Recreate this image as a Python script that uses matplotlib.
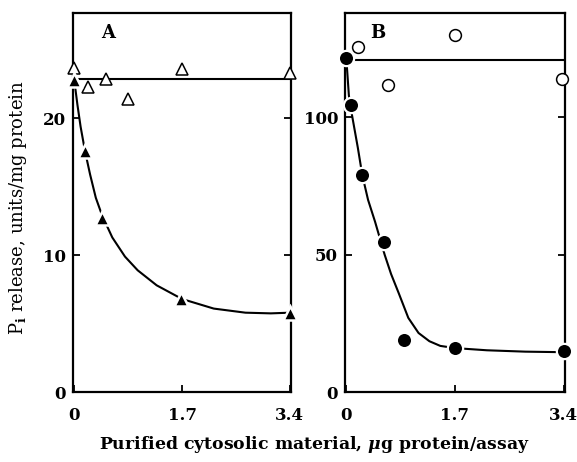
import matplotlib.pyplot as plt

# Panel A: open triangles (control) and filled triangles (with cytosolic material)
a_open_x = [0.0, 0.22, 0.5, 0.84, 1.7, 3.4]
a_open_y = [23.7, 22.3, 22.9, 21.4, 23.6, 23.3]
a_fill_x = [0.0, 0.17, 0.44, 1.69, 3.4]
a_fill_y = [22.8, 17.6, 12.7, 6.8, 5.8]
a_flat_y = 22.9
a_curve_x = [0.0, 0.05, 0.1, 0.17, 0.25, 0.34, 0.44, 0.6, 0.8, 1.0, 1.3, 1.7, 2.2, 2.7, 3.1, 3.4]
a_curve_y = [22.8, 21.0, 19.4, 17.6, 15.9, 14.2, 12.9, 11.3, 9.9, 8.9, 7.8, 6.8, 6.1, 5.8, 5.75, 5.8]

# Panel B: open circles and filled circles
b_open_x = [0.19, 0.65, 1.7, 3.38]
b_open_y = [125.5, 112.0, 130.0, 114.0]
b_fill_x = [0.0, 0.08, 0.25, 0.59, 0.91, 1.7, 3.4]
b_fill_y = [121.5, 104.7, 79.0, 54.5, 19.0, 16.0, 15.0]
b_flat_y = 120.8
b_curve_x = [0.0, 0.04, 0.08, 0.18, 0.25, 0.34, 0.45, 0.6, 0.7, 0.82, 0.97,
             1.13, 1.3, 1.47, 1.7, 2.2, 2.8, 3.4]
b_curve_y = [121.5, 108.0, 102.0, 89.0, 79.0, 70.0, 62.0, 50.0, 43.0, 36.0, 27.0,
             21.5, 18.5, 16.8, 16.0, 15.2, 14.7, 14.5]

xticks = [0, 1.7, 3.4]
xticklabels = ['0', '1.7', '3.4']

plt.rcParams['font.family'] = ['DejaVu Serif']
plt.rcParams['font.weight'] = 'bold'
plt.rcParams['mathtext.fontset'] = 'custom'
plt.rcParams['mathtext.rm'] = 'DejaVu Serif:bold'
plt.rcParams['mathtext.it'] = 'DejaVu Serif:italic:bold'

fig = plt.figure(figsize=(5.77, 4.62), dpi=100)
axA = fig.add_axes([0.1265, 0.1515, 0.378, 0.820])
axB = fig.add_axes([0.598, 0.1515, 0.381, 0.820])


def style(ax, ylim, yticks):
    ax.set_xlim(-0.02, 3.42)
    ax.set_ylim(*ylim)
    ax.set_xticks(xticks)
    ax.set_xticklabels(xticklabels)
    ax.set_yticks(yticks)
    ax.tick_params(direction='in', length=5, width=1.3, right=True, labelsize=12)
    ax.tick_params(axis='x', pad=11)
    ax.tick_params(axis='y', pad=5)
    for s in ax.spines.values():
        s.set_linewidth(1.6)


# Panel A
axA.plot([0, 3.4], [a_flat_y, a_flat_y], color='black', lw=1.5, zorder=2)
axA.plot(a_curve_x, a_curve_y, color='black', lw=1.5, zorder=2)
axA.plot(a_open_x, a_open_y, linestyle='none', marker='^', ms=9,
         mfc='white', mec='black', mew=1.1, clip_on=False, zorder=4)
axA.plot(a_fill_x, a_fill_y, linestyle='none', marker='^', ms=10,
         mfc='black', mec='white', mew=1.8, clip_on=False, zorder=5)
style(axA, (0, 27.7), [0, 10, 20])
axA.text(0.16, 0.947, 'A', transform=axA.transAxes, fontsize=13,
         fontweight='bold', va='center', ha='center')
axA.set_ylabel(r'P$_\mathrm{i}$ release, units/mg protein', fontsize=13)
axA.yaxis.set_label_coords(-0.20, 0.487)

# Panel B
axB.plot([0, 3.4], [b_flat_y, b_flat_y], color='black', lw=1.5, zorder=2)
axB.plot(b_curve_x, b_curve_y, color='black', lw=1.5, zorder=2)
axB.plot(b_open_x, b_open_y, linestyle='none', marker='o', ms=8.5,
         mfc='white', mec='black', mew=1.1, clip_on=False, zorder=4)
axB.plot(b_fill_x, b_fill_y, linestyle='none', marker='o', ms=11,
         mfc='black', mec='white', mew=1.6, clip_on=False, zorder=5)
style(axB, (0, 138), [0, 50, 100])
axB.text(0.15, 0.947, 'B', transform=axB.transAxes, fontsize=13,
         fontweight='bold', va='center', ha='center')

fig.text(0.545, 0.037, r'Purified cytosolic material, $\mu$g protein/assay',
         fontsize=12.4, ha='center', va='center')

fig.savefig('out.png', dpi=100)
